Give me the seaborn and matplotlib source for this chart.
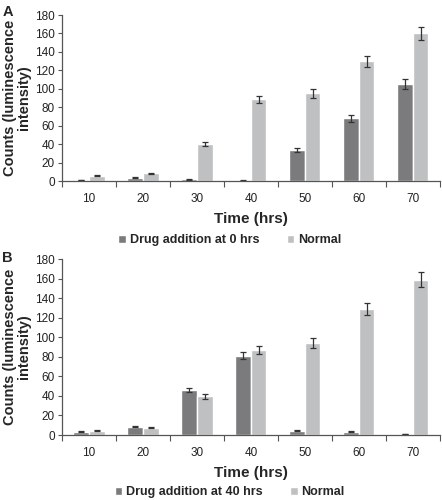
import numpy as np
import pandas as pd
import matplotlib
matplotlib.use("Agg")
import matplotlib.pyplot as plt
import seaborn as sns

# --- Data ---
times = ["10", "20", "30", "40", "50", "60", "70"]

a_drug = [1.0, 3.5, 2.0, 0.5, 33.5, 68, 105]
a_drug_err = [0.3, 0.4, 0.5, 0.4, 2.0, 3.5, 5.5]
a_normal = [5.5, 8.5, 40, 88.5, 95, 130, 160]
a_normal_err = [0.5, 0.4, 2.0, 4.0, 4.5, 6.0, 7.5]

b_drug = [3.5, 8.5, 46, 81, 4.5, 3.5, 1.0]
b_drug_err = [0.4, 0.4, 2.5, 3.5, 0.4, 0.4, 0.3]
b_normal = [4.5, 7.5, 39.5, 87, 94, 129, 159]
b_normal_err = [0.5, 0.5, 2.5, 4.5, 5.0, 6.5, 7.5]

DARK = "#7b7b7d"
LIGHT = "#bfc0c2"
FONT = ["Liberation Sans", "DejaVu Sans"]

sns.set_theme(style="white")
plt.rcParams["font.family"] = FONT


def draw_panel(fig, ax, drug, drug_err, normal, normal_err, drug_label, legend_y):
    df = pd.DataFrame({
        "Time": times * 2,
        "Counts": list(drug) + list(normal),
        "Series": [drug_label] * len(times) + ["Normal"] * len(times),
    })
    sns.barplot(data=df, x="Time", y="Counts", hue="Series",
                palette=[DARK, LIGHT], width=0.58, errorbar=None,
                saturation=1, ax=ax, legend=True)

    # error bars at the bar centres
    errs = list(drug_err) + list(normal_err)
    vals = list(drug) + list(normal)
    bars = ax.patches[:len(vals)]
    for p, v, e in zip(bars, vals, errs):
        cx = p.get_x() + p.get_width() / 2
        ax.errorbar(cx, v, yerr=e, fmt="none", ecolor="#333333",
                    elinewidth=0.9, capsize=2.2, capthick=0.9)

    ax.set_ylim(0, 180)
    ax.set_xlim(-0.5, len(times) - 0.5)
    ax.set_yticks(np.arange(0, 181, 20))
    ax.tick_params(axis="y", labelsize=8.5, length=3, width=0.8,
                   color="#555555", left=True, pad=2, labelcolor="#222222")
    ax.tick_params(axis="x", labelsize=8.5, length=0, pad=9, labelcolor="#222222")
    # category boundary ticks, Excel style
    ax.set_xticks(np.arange(-0.5, len(times), 1.0), minor=True)
    ax.tick_params(axis="x", which="minor", length=4, width=0.8,
                   color="#555555", bottom=True, direction="out")

    for s in ["top", "right"]:
        ax.spines[s].set_visible(False)
    for s in ["left", "bottom"]:
        ax.spines[s].set_color("#555555")
        ax.spines[s].set_linewidth(0.9)

    ax.set_xlabel("Time (hrs)", fontsize=11, fontweight="bold", labelpad=5)
    ax.set_ylabel("Counts (luminescence\nintensity)", fontsize=10.5,
                  fontweight="bold", labelpad=3, linespacing=1.0)

    handles, labels = ax.get_legend_handles_labels()
    ax.get_legend().remove()
    fig.legend(handles, labels, loc="center", bbox_to_anchor=(0.52, legend_y),
               ncol=2, frameon=False, handlelength=0.6, handleheight=0.6,
               handletextpad=0.3, columnspacing=2.2,
               prop={"family": FONT, "weight": "bold", "size": 9})


fig = plt.figure(figsize=(4.42, 5.0), dpi=100)
ax_a = fig.add_axes([0.140, 0.638, 0.855, 0.332])
ax_b = fig.add_axes([0.140, 0.130, 0.855, 0.352])

draw_panel(fig, ax_a, a_drug, a_drug_err, a_normal, a_normal_err,
           "Drug addition at 0 hrs", 1 - 240 / 500)
draw_panel(fig, ax_b, b_drug, b_drug_err, b_normal, b_normal_err,
           "Drug addition at 40 hrs", 1 - 492 / 500)

fig.text(0.005, 0.99, "A", fontsize=10.5, fontweight="bold", va="top", ha="left")
fig.text(0.005, 0.498, "B", fontsize=10.5, fontweight="bold", va="top", ha="left")

fig.savefig("out.png", dpi=100)
